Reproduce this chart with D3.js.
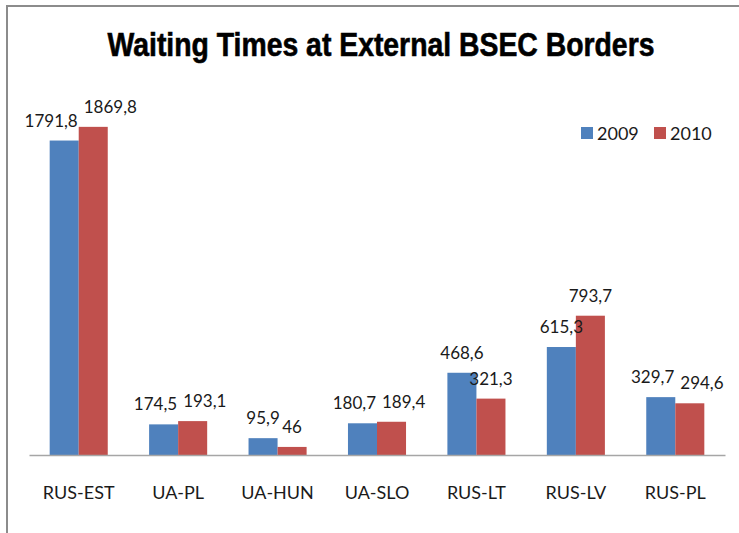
<!DOCTYPE html>
<html>
<head>
<meta charset="utf-8">
<script src="https://cdn.jsdelivr.net/npm/d3@7"></script>
<style>
  html, body { margin: 0; padding: 0; background: #fff; }
  svg { display: block; }
</style>
</head>
<body>
<script>
const categories = ["RUS-EST", "UA-PL", "UA-HUN", "UA-SLO", "RUS-LT", "RUS-LV", "RUS-PL"];
const seriesNames = ["2009", "2010"];
const values2009 = [1791.8, 174.5, 95.9, 180.7, 468.6, 615.3, 329.7];
const values2010 = [1869.8, 193.1, 46, 189.4, 321.3, 793.7, 294.6];
const labels2009 = ["1791,8", "174,5", "95,9", "180,7", "468,6", "615,3", "329,7"];
const labels2010 = ["1869,8", "193,1", "46", "189,4", "321,3", "793,7", "294,6"];
const colors = ["#4F81BD", "#C0504D"];
const titleText = "Waiting Times at External BSEC Borders";

const W = 739, H = 533;
const svg = d3.select("body").append("svg").attr("width", W).attr("height", H);

// chart border (top & left visible)
svg.append("rect").attr("x", 7).attr("y", 6).attr("width", W + 10).attr("height", H + 10)
  .attr("fill", "none").attr("stroke", "#8c8c8c").attr("stroke-width", 2);

// title: condensed bold via horizontal scaling
const titleG = svg.append("g");
const title = titleG.append("text").attr("x", 0).attr("y", 0).attr("text-anchor", "middle")
  .attr("font-family", "'Liberation Sans', Arial, sans-serif")
  .attr("font-weight", "bold").attr("font-size", 33)
  .attr("stroke", "#000").attr("stroke-width", 0.6)
  .attr("fill", "#000").text(titleText);
const natW = title.node().getComputedTextLength();
const sx = 547 / natW;
titleG.attr("transform", `translate(381,56) scale(${sx},1)`);

const x0 = d3.scaleBand().domain(categories).range([29, 725]).paddingInner(0.416).paddingOuter(0.208);
const x1 = d3.scaleBand().domain(seriesNames).range([0, x0.bandwidth()]);
const y = d3.scaleLinear().domain([0, 2000]).range([455, 104]);

const data = categories.map((c, i) => ({
  cat: c,
  vals: [
    { s: seriesNames[0], v: values2009[i], lab: labels2009[i], ci: 0 },
    { s: seriesNames[1], v: values2010[i], lab: labels2010[i], ci: 1 }
  ]
}));

const g = svg.append("g");
const groups = g.selectAll("g.cat").data(data).join("g")
  .attr("transform", d => `translate(${x0(d.cat)},0)`);

groups.selectAll("rect").data(d => d.vals).join("rect")
  .attr("x", d => x1(d.s)).attr("width", x1.bandwidth())
  .attr("y", d => y(d.v)).attr("height", d => y(0) - y(d.v))
  .attr("fill", d => colors[d.ci]);

// axis baseline
const xAxis = d3.axisBottom(x0).tickSize(0).tickPadding(40);
const ax = svg.append("g").attr("transform", `translate(0,${y(0)})`).call(xAxis);
ax.select(".domain").attr("stroke", "#a6a6a6").attr("stroke-width", 1.5);
ax.selectAll("text").attr("font-family", "Lato, 'Open Sans', sans-serif")
  .attr("font-size", 18).attr("fill", "#1a1a1a").attr("dy", "0.2em");

// data labels with simple collision handling
const labelFont = "Lato, 'Open Sans', sans-serif";
const labelSize = 17;
const gap = 14;
const tmp = svg.append("text").attr("font-family", labelFont).attr("font-size", labelSize);
function textW(s) { tmp.text(s); return tmp.node().getComputedTextLength(); }

groups.each(function(d) {
  const gsel = d3.select(this);
  const boxes = d.vals.map(v => {
    const cx = x1(v.s) + x1.bandwidth() / 2;
    const w = textW(v.lab);
    const base = y(v.v) - gap;
    return { v, cx, w, base, anchor: "middle", tx: cx };
  });
  const a = boxes[0], b = boxes[1];
  const hOverlap = (a.cx + a.w / 2) > (b.cx - b.w / 2) - 2;
  const vOverlap = Math.abs(a.base - b.base) < labelSize;
  if (hOverlap && vOverlap) {
    const mid = x0.bandwidth() / 2;
    a.anchor = "end"; a.tx = mid - 1;
    b.anchor = "start"; b.tx = mid + 5;
  }
  boxes.forEach(bx => {
    gsel.append("text").attr("x", bx.tx).attr("y", bx.base)
      .attr("text-anchor", bx.anchor)
      .attr("font-family", labelFont).attr("font-size", labelSize)
      .attr("fill", "#1a1a1a").text(bx.v.lab);
  });
});
tmp.remove();

// legend
const legend = svg.append("g").attr("transform", "translate(581,127)");
const li = legend.selectAll("g").data(seriesNames).join("g")
  .attr("transform", (d, i) => `translate(${i * 73},0)`);
li.append("rect").attr("width", 12).attr("height", 12).attr("fill", (d, i) => colors[i]);
li.append("text").attr("x", 16).attr("y", 12.5)
  .attr("font-family", labelFont).attr("font-size", 18).attr("fill", "#1a1a1a").text(d => d);
</script>
</body>
</html>
